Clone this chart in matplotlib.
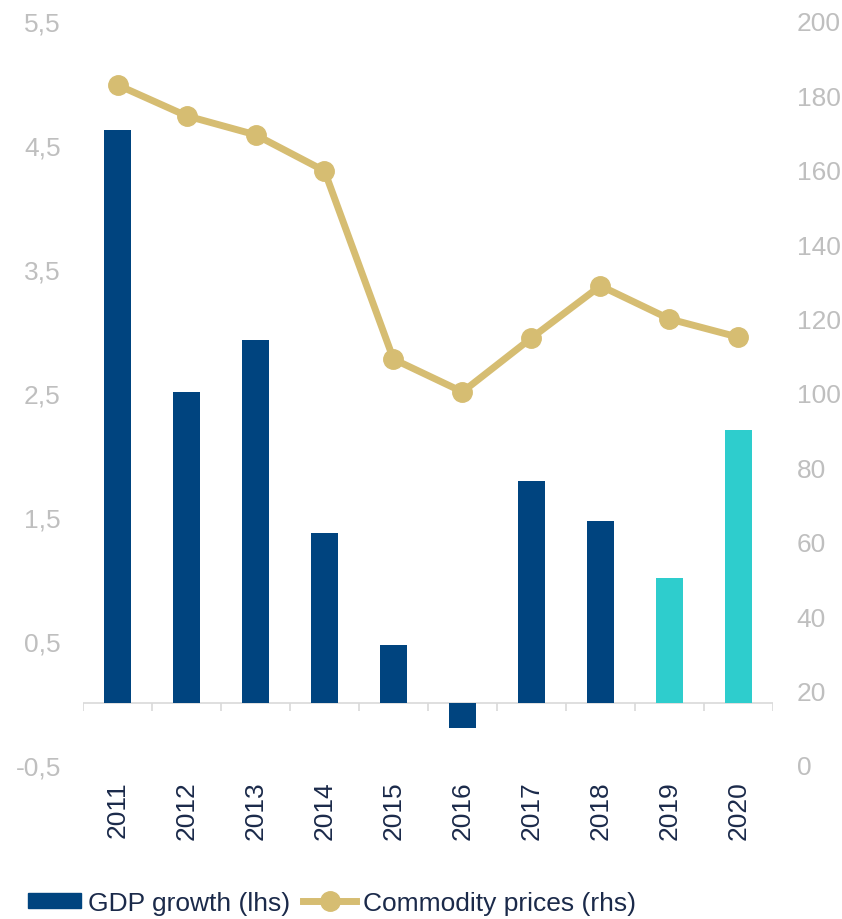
import matplotlib
matplotlib.use("Agg")
from matplotlib import pyplot as plt
from matplotlib.lines import Line2D
from matplotlib.patches import Patch
import numpy as np

plt.rcParams['font.family'] = ['Liberation Sans', 'DejaVu Sans']

years = ['2011', '2012', '2013', '2014', '2015', '2016', '2017', '2018', '2019', '2020']
gdp_growth = [4.62, 2.51, 2.93, 1.37, 0.47, -0.2, 1.79, 1.47, 1.01, 2.2]
commodity = [182.8, 174.5, 169.4, 159.7, 109.1, 100.3, 114.8, 128.8, 119.9, 115.0]
forecast = [False] * 8 + [True] * 2

navy = '#00447f'
teal = '#2ecdcd'
gold = '#d6bd72'
grey = '#bfbfbf'
label_col = '#1b2a4a'
fs = 19

fig = plt.figure(figsize=(8.42, 9.2), dpi=100)
ax = fig.add_axes([0.0986, 0.1674, 0.8194, 0.8087])
ax2 = ax.twinx()

x = np.arange(len(years))
colors = [teal if f else navy for f in forecast]
ax.bar(x, gdp_growth, width=0.4, color=colors, zorder=2)

# zero line with category tick marks
ax.axhline(0, color='#d9d9d9', lw=1.2, zorder=1)
ax.vlines(np.arange(-0.5, len(years)), -0.065, 0, color='#d9d9d9', lw=1.2, zorder=1)

ax.set_xlim(-0.5, len(years) - 0.5)
ax.set_ylim(-0.5, 5.5)
ax.set_yticks(np.arange(-0.5, 5.6, 1.0))
ax.set_yticklabels([f'{v:.1f}'.replace('.', ',') for v in np.arange(-0.5, 5.6, 1.0)])
ax.set_xticks(x)
ax.set_xticklabels(years, rotation=90, color=label_col, fontsize=fs)
ax.tick_params(axis='x', length=0, pad=11)
ax.tick_params(axis='y', length=0, pad=16, labelsize=fs, labelcolor=grey)

ax2.plot(x, commodity, color=gold, lw=5, marker='o', markersize=14, zorder=3)
ax2.set_ylim(0, 200)
ax2.set_yticks(np.arange(0, 201, 20))
ax2.tick_params(axis='y', length=0, pad=17, labelsize=fs, labelcolor=grey)

for a in (ax, ax2):
    for s in a.spines.values():
        s.set_visible(False)

handles = [Patch(color=navy, label='GDP growth (lhs)'),
           Line2D([0], [0], color=gold, lw=5, marker='o', markersize=14,
                  label='Commodity prices (rhs)')]
fig.legend(handles=handles, loc='lower left', bbox_to_anchor=(0.005, -0.021), ncol=2,
           frameon=False, fontsize=fs, handlelength=2.0, handleheight=0.5,
           handletextpad=0.27, columnspacing=0.5, labelcolor=label_col)

fig.savefig('out.png', dpi=100)
